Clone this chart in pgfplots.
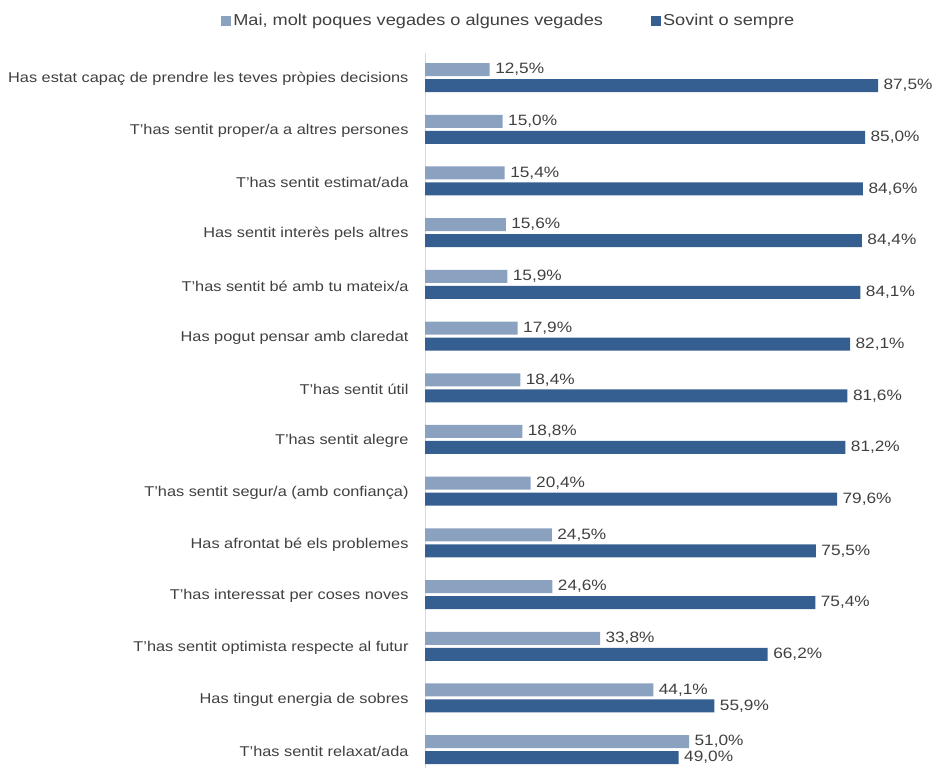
\documentclass[border=0pt]{standalone}
\usepackage{pgfplots}
\pgfplotsset{compat=1.18}
\usepackage{fontspec}
\setmainfont{Liberation Sans}[FakeStretch=1.15]
\definecolor{lightbar}{HTML}{8AA2C0}
\definecolor{darkbar}{HTML}{365F91}
\definecolor{txt}{HTML}{404040}
\definecolor{axgray}{HTML}{D9D9D9}
\begin{document}
\begin{tikzpicture}
\begin{axis}[
  scale only axis,
  x=5.177pt, y=51.7pt,
  xmin=0, xmax=88,
  ymin=-0.48, ymax=13.35,
  y dir=reverse,
  xbar, bar width=13pt,
  axis x line=none,
  axis y line*=left,
  y axis line style={draw=axgray, line width=1pt, -},
  ytick={0,...,13},
  major tick length=0pt,
  yticklabels={
    Has estat capaç de prendre les teves pròpies decisions,
    T'has sentit proper/a a altres persones,
    T'has sentit estimat/ada,
    Has sentit interès pels altres,
    T'has sentit bé amb tu mateix/a,
    Has pogut pensar amb claredat,
    T'has sentit útil,
    T'has sentit alegre,
    T'has sentit segur/a (amb confiança),
    Has afrontat bé els problemes,
    T'has interessat per coses noves,
    T'has sentit optimista respecte al futur,
    Has tingut energia de sobres,
    T'has sentit relaxat/ada},
  yticklabel style={font=\fontsize{14.2}{16}\selectfont, text=txt, xshift=-13pt, yshift=-1.5pt},
  nodes near coords={\pgfmathprintnumber[fixed, fixed zerofill, precision=1, use comma, assume math mode=true]{\pgfplotspointmeta}\%},
  nodes near coords style={font=\fontsize{15}{17}\selectfont, text=txt, anchor=west, xshift=2pt},
  point meta=explicit,
  clip=false,
  legend style={at={(0.184,1)}, anchor=center, yshift=32pt, draw=none, fill=none,
    font=\fontsize{15.8}{18}\selectfont, text=txt, legend columns=2,
    /tikz/every even column/.append style={column sep=46pt}},
  legend image code/.code={\fill[#1] (0pt,-5pt) rectangle (10pt,5pt);},
]
\addplot[fill=lightbar, draw=none, bar shift=8pt] coordinates {
(12.5,0) [12.5] (15.0,1) [15.0] (15.4,2) [15.4] (15.6,3) [15.6] (15.9,4) [15.9]
(17.9,5) [17.9] (18.4,6) [18.4] (18.8,7) [18.8] (20.4,8) [20.4] (24.5,9) [24.5]
(24.6,10) [24.6] (33.8,11) [33.8] (44.1,12) [44.1] (51.0,13) [51.0]};
\addlegendentry{Mai, molt poques vegades o algunes vegades}
\addplot[fill=darkbar, draw=none, bar shift=-8pt] coordinates {
(87.5,0) [87.5] (85.0,1) [85.0] (84.6,2) [84.6] (84.4,3) [84.4] (84.1,4) [84.1]
(82.1,5) [82.1] (81.6,6) [81.6] (81.2,7) [81.2] (79.6,8) [79.6] (75.5,9) [75.5]
(75.4,10) [75.4] (66.2,11) [66.2] (55.9,12) [55.9] (49.0,13) [49.0]};
\addlegendentry{Sovint o sempre}
\coordinate (bbTL) at (axis cs:-82.1,-1.5);
\coordinate (bbBR) at (axis cs:98.7,13.336);
\end{axis}
\pgfresetboundingbox
\useasboundingbox (bbTL) rectangle (bbBR);
\end{tikzpicture}
\end{document}
